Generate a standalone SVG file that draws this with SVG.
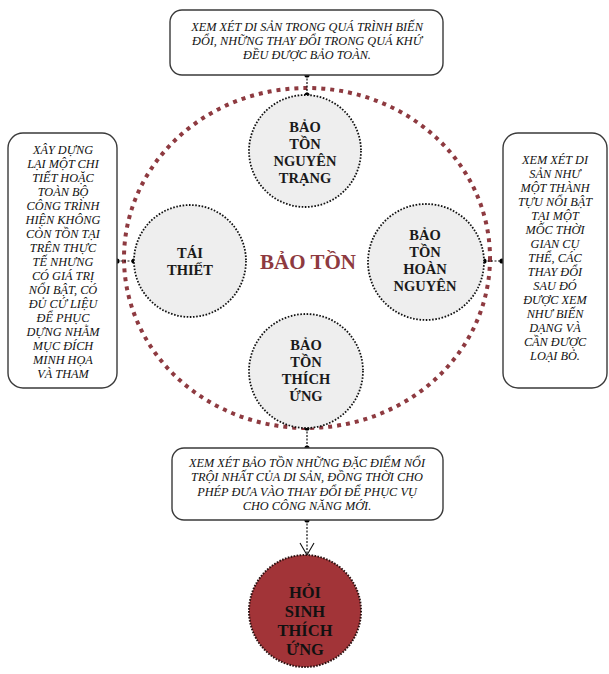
<svg xmlns="http://www.w3.org/2000/svg" width="609" height="674" viewBox="0 0 609 674">
<defs>
<style>
.box{fill:#fff;stroke:#3a3a3a;stroke-width:1.4}
.bt{font-family:"Liberation Serif","DejaVu Serif",serif;font-style:italic;font-size:12.3px;fill:#111;text-anchor:middle}
.ct{font-family:"Liberation Serif","DejaVu Serif",serif;font-weight:bold;font-size:14.5px;fill:#1a1a1a;text-anchor:middle}
.rt{font-family:"Liberation Serif","DejaVu Serif",serif;font-weight:bold;font-size:16.5px;fill:#111;text-anchor:middle}
.inner{fill:#eeeeee;stroke:#111;stroke-width:1.8;stroke-dasharray:1.6 1.6}
.conn{stroke:#111;stroke-width:1.2;stroke-dasharray:2 1.5;fill:none}
.dot{fill:#000}
</style>
<marker id="arr" viewBox="0 0 14 16" refX="13" refY="8" markerWidth="14" markerHeight="16" markerUnits="userSpaceOnUse" orient="auto">
<path d="M1,1 L13,8 L1,15" fill="none" stroke="#111" stroke-width="1.1"/>
</marker>
</defs>
<rect width="609" height="674" fill="#fff"/>

<g id="outer">
<ellipse cx="307" cy="258" rx="183" ry="170" fill="none" stroke="#8e3a40" stroke-width="4" stroke-dasharray="4 5"/>
<text x="308" y="269" font-family="'Liberation Serif','DejaVu Serif',serif" font-weight="bold" font-size="21" fill="#8e3a40" text-anchor="middle">BẢO TỒN</text>
</g>

<g id="connectors">
<line class="conn" x1="307" y1="75" x2="307" y2="95"/>
<circle class="dot" cx="307" cy="75" r="2.6"/><circle class="dot" cx="307" cy="95" r="2.6"/>
<line class="conn" x1="117" y1="261" x2="134" y2="261"/>
<circle class="dot" cx="117" cy="261" r="2.6"/><circle class="dot" cx="134" cy="261" r="2.6"/>
<line class="conn" x1="484" y1="261" x2="502" y2="261"/>
<circle class="dot" cx="484" cy="261" r="2.6"/><circle class="dot" cx="502" cy="261" r="2.6"/>
<line class="conn" x1="307" y1="428" x2="307" y2="448"/>
<circle class="dot" cx="307" cy="428" r="2.6"/><circle class="dot" cx="307" cy="448" r="2.6"/>
<line class="conn" x1="307" y1="520" x2="307" y2="555" marker-end="url(#arr)"/>
<circle class="dot" cx="307" cy="520" r="2.6"/>
</g>

<g id="box-top">
<rect class="box" x="170" y="10" width="273" height="65" rx="12"/>
<text class="bt" x="307" y="31">XEM XÉT DI SẢN TRONG QUÁ TRÌNH BIẾN</text>
<text class="bt" x="307" y="45">ĐỔI, NHỮNG THAY ĐỔI TRONG QUÁ KHỨ</text>
<text class="bt" x="307" y="59">ĐỀU ĐƯỢC BẢO TOÀN.</text>
</g>

<g id="box-left">
<rect class="box" x="8" y="133" width="109" height="255" rx="15"/>
<text class="bt" x="63" y="154">XÂY DỰNG</text>
<text class="bt" x="63" y="168">LẠI MỘT CHI</text>
<text class="bt" x="63" y="182">TIẾT HOẶC</text>
<text class="bt" x="63" y="196">TOÀN BỘ</text>
<text class="bt" x="63" y="210">CÔNG TRÌNH</text>
<text class="bt" x="63" y="224">HIỆN KHÔNG</text>
<text class="bt" x="63" y="238">CÒN TỒN TẠI</text>
<text class="bt" x="63" y="252">TRÊN THỰC</text>
<text class="bt" x="63" y="266">TẾ NHƯNG</text>
<text class="bt" x="63" y="280">CÓ GIÁ TRỊ</text>
<text class="bt" x="63" y="294">NỔI BẬT, CÓ</text>
<text class="bt" x="63" y="308">ĐỦ CỨ LIỆU</text>
<text class="bt" x="63" y="322">ĐỂ PHỤC</text>
<text class="bt" x="63" y="336">DỰNG NHẰM</text>
<text class="bt" x="63" y="350">MỤC ĐÍCH</text>
<text class="bt" x="63" y="364">MINH HỌA</text>
<text class="bt" x="63" y="378">VÀ THAM</text>
</g>

<g id="box-right">
<rect class="box" x="503" y="133" width="104" height="255" rx="15"/>
<text class="bt" x="555" y="164">XEM XÉT DI</text>
<text class="bt" x="555" y="178">SẢN NHƯ</text>
<text class="bt" x="555" y="192">MỘT THÀNH</text>
<text class="bt" x="555" y="206">TỰU NỔI BẬT</text>
<text class="bt" x="555" y="220">TẠI MỘT</text>
<text class="bt" x="555" y="234">MỐC THỜI</text>
<text class="bt" x="555" y="248">GIAN CỤ</text>
<text class="bt" x="555" y="262">THỂ, CÁC</text>
<text class="bt" x="555" y="276">THAY ĐỔI</text>
<text class="bt" x="555" y="290">SAU ĐÓ</text>
<text class="bt" x="555" y="304">ĐƯỢC XEM</text>
<text class="bt" x="555" y="318">NHƯ BIẾN</text>
<text class="bt" x="555" y="332">DẠNG VÀ</text>
<text class="bt" x="555" y="346">CẦN ĐƯỢC</text>
<text class="bt" x="555" y="360">LOẠI BỎ.</text>
</g>

<g id="box-bottom">
<rect class="box" x="172" y="448" width="271" height="72" rx="12"/>
<text class="bt" x="307" y="467">XEM XÉT BẢO TỒN NHỮNG ĐẶC ĐIỂM NỔI</text>
<text class="bt" x="307" y="481">TRỘI NHẤT CỦA DI SẢN, ĐỒNG THỜI CHO</text>
<text class="bt" x="307" y="496">PHÉP ĐƯA VÀO THAY ĐỔI ĐỂ PHỤC VỤ</text>
<text class="bt" x="307" y="510">CHO CÔNG NĂNG MỚI.</text>
</g>

<g id="node-nguyen-trang">
<circle class="inner" cx="305" cy="151" r="56"/>
<text class="ct" x="305" y="132">BẢO</text>
<text class="ct" x="305" y="149">TỒN</text>
<text class="ct" x="305" y="166">NGUYÊN</text>
<text class="ct" x="305" y="183">TRẠNG</text>
</g>

<g id="node-tai-thiet">
<circle class="inner" cx="190" cy="261" r="56"/>
<text class="ct" x="190" y="258">TÁI</text>
<text class="ct" x="190" y="275">THIẾT</text>
</g>

<g id="node-hoan-nguyen">
<circle class="inner" cx="426" cy="262" r="58"/>
<text class="ct" x="425" y="240">BẢO</text>
<text class="ct" x="425" y="257">TỒN</text>
<text class="ct" x="425" y="274">HOÀN</text>
<text class="ct" x="425" y="291">NGUYÊN</text>
</g>

<g id="node-thich-ung">
<circle class="inner" cx="306" cy="371" r="57"/>
<text class="ct" x="306" y="350">BẢO</text>
<text class="ct" x="306" y="367">TỒN</text>
<text class="ct" x="306" y="384">THÍCH</text>
<text class="ct" x="306" y="401">ỨNG</text>
</g>

<g id="node-hoi-sinh">
<circle cx="305" cy="611" r="56" fill="#a23438" stroke="#2a1010" stroke-width="2" stroke-dasharray="1.6 1.4"/>
<text class="rt" x="305" y="598">HỎI</text>
<text class="rt" x="305" y="617">SINH</text>
<text class="rt" x="305" y="636">THÍCH</text>
<text class="rt" x="305" y="655">ỨNG</text>
</g>
</svg>
